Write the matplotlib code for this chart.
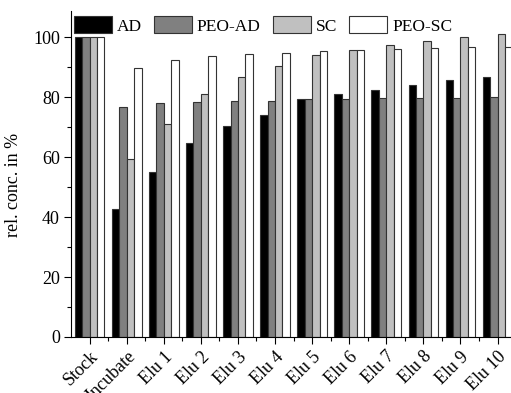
import matplotlib
matplotlib.use("Agg")
import matplotlib.pyplot as plt
import numpy as np

categories = ["Stock", "Incubate", "Elu 1", "Elu 2", "Elu 3", "Elu 4", "Elu 5",
              "Elu 6", "Elu 7", "Elu 8", "Elu 9", "Elu 10"]
series_names = ["AD", "PEO-AD", "SC", "PEO-SC"]
ad = [100, 42.6, 55.0, 64.7, 70.3, 74.0, 79.2, 81.0, 82.4, 83.9, 85.6, 86.8]
peo_ad = [100, 76.6, 77.9, 78.3, 78.7, 78.8, 79.2, 79.3, 79.6, 79.6, 79.8, 79.9]
sc = [100, 59.2, 71.1, 81.1, 86.8, 90.3, 93.9, 95.7, 97.2, 98.6, 99.9, 100.9]
peo_sc = [100, 89.7, 92.4, 93.6, 94.2, 94.6, 95.4, 95.8, 96.1, 96.2, 96.6, 96.6]

colors = ["#000000", "#808080", "#c0c0c0", "#ffffff"]

plt.rcParams["font.family"] = ["Liberation Serif", "DejaVu Serif"]
plt.rcParams["font.size"] = 13

fig = plt.figure(figsize=(5.11, 3.93), dpi=100)
ax = fig.add_axes([0.139, 0.1425, 0.871, 0.8295])

x = np.arange(len(categories))
width = 0.2
for i, (name, vals) in enumerate(zip(series_names, [ad, peo_ad, sc, peo_sc])):
    ax.bar(x + (i - 1.5) * width, vals, width, color=colors[i],
           edgecolor="#333333", linewidth=0.8, label=name)

ax.set_xlim(-0.5, 11.5)
ax.set_ylim(0, 108.7)
ax.set_yticks(np.arange(0, 101, 20))
ax.set_yticks(np.arange(10, 101, 20), minor=True)
ax.set_xticks(x)
ax.set_xticks(x[:-1] + 0.5, minor=True)
ax.set_xticklabels(categories, rotation=45, ha="right", rotation_mode="anchor")
ax.tick_params(axis="both", which="major", direction="out", length=5, width=0.8, pad=3)
ax.tick_params(axis="both", which="minor", direction="out", length=3, width=0.8)
ax.spines["top"].set_visible(False)
ax.spines["right"].set_visible(False)

ax.set_ylabel("rel. conc. in %")
ax.yaxis.set_label_coords(-0.11, 0.466)

ax.legend(loc="upper left", bbox_to_anchor=(-0.01, 1.005), ncol=4, frameon=False,
          handlelength=2.2, handleheight=1.1, handletextpad=0.28,
          columnspacing=0.69, borderaxespad=0.0, fontsize=12.5)

fig.savefig("out.png", dpi=100)
